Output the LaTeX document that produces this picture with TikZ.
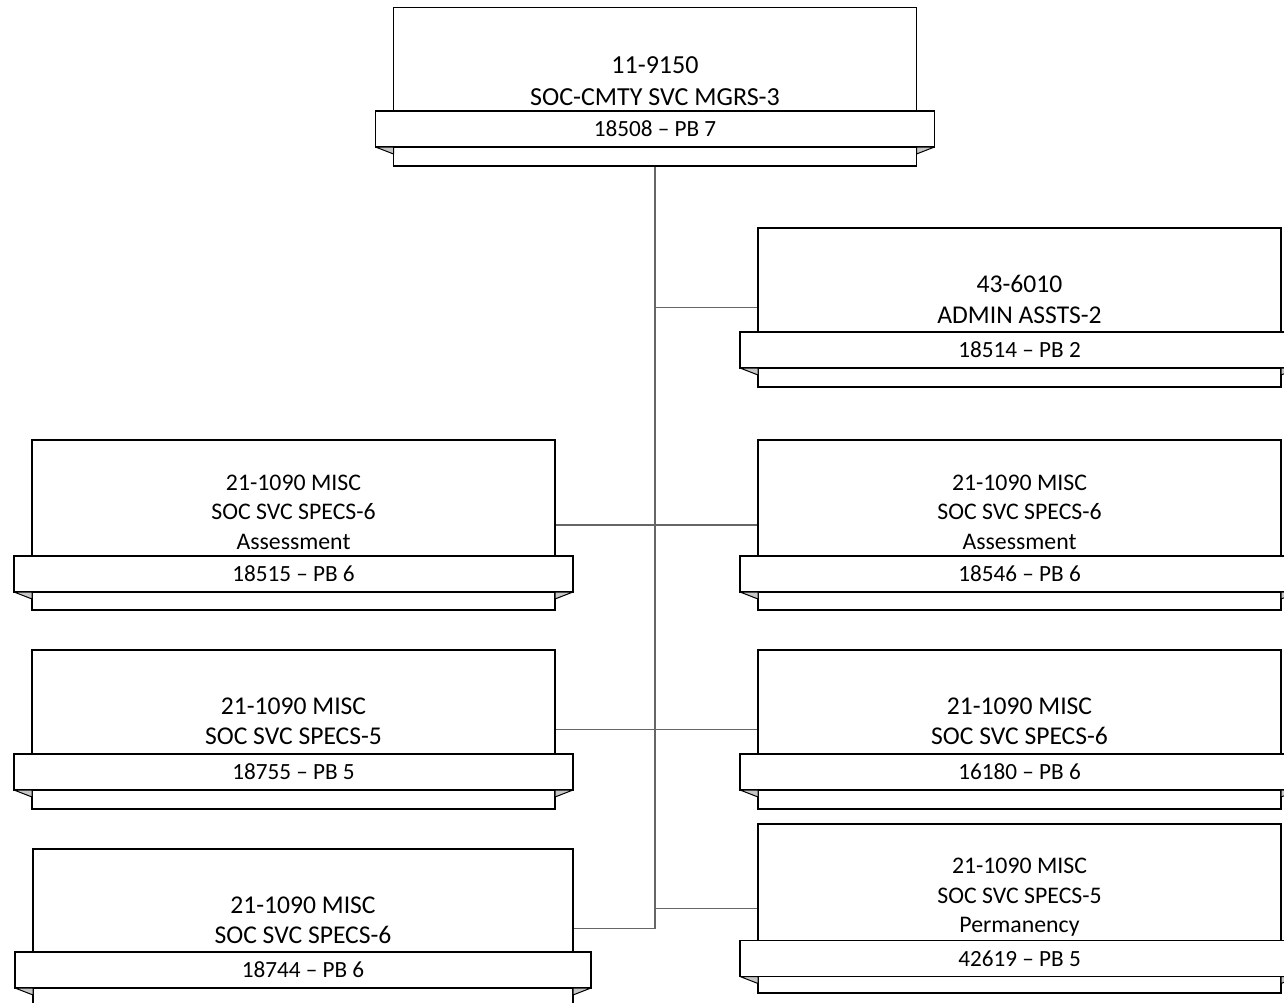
\documentclass[tikz,border=0pt]{standalone}
\usepackage{fontspec}
\setmainfont{Carlito}
\pgfdeclarelayer{bg}
\pgfsetlayers{bg,main}
\begin{document}
\begin{tikzpicture}[x=1pt,y=-1pt,
  mainbox/.style={draw=black, line width=1.8pt, fill=white, inner sep=0pt, outer sep=0pt, minimum width=523pt},
  band/.style={draw=black, line width=1.8pt, fill=white, inner sep=0pt, outer sep=0pt, minimum height=36pt, minimum width=559pt, font=\fontsize{23.2}{27}\selectfont},
  fold/.style={fill=black!22, draw=black, line width=1pt, line join=round},
  link/.style={draw=black!60, line width=1.1pt},
  txtT/.style={align=center, font=\fontsize{26}{31.5}\selectfont, inner sep=0pt},
  txtA/.style={align=center, font=\fontsize{25.6}{30.5}\selectfont, inner sep=0pt},
  txtB/.style={align=center, font=\fontsize{23.8}{29.5}\selectfont, inner sep=0pt}]
\useasboundingbox (0,0) rectangle (1284,1002);
\clip (0,0) rectangle (1284,1002);

% top box
\node[mainbox, minimum height=158.5pt] (t0) at (655,86.75) {};
\node[txtT] (t0txt) at (655,81.25) {11-9150\\SOC-CMTY SVC MGRS-3};
\node[band] (t0b) at (655,129) {18508 – PB 7};
\filldraw[fold] (t0b.south west) -- ++(18,7) -- ++(0,-7) -- cycle;
\filldraw[fold] (t0b.south east) -- ++(-18,7) -- ++(0,-7) -- cycle;

% admin
\node[mainbox, minimum height=159pt] (a) at (1019.5,307.5) {};
\node[txtA] (atxt) at (1019.5,299.25) {43-6010\\ADMIN ASSTS-2};
\node[band] (ab) at (1019.5,350) {18514 – PB 2};
\filldraw[fold] (ab.south west) -- ++(18,7) -- ++(0,-7) -- cycle;
\filldraw[fold] (ab.south east) -- ++(-18,7) -- ++(0,-7) -- cycle;

% row 1 left
\node[mainbox, minimum height=170pt] (l1) at (293.5,525) {};
\node[txtB] (l1txt) at (293.5,512) {21-1090 MISC\\SOC SVC SPECS-6\\Assessment};
\node[band] (l1b) at (293.5,574) {18515 – PB 6};
\filldraw[fold] (l1b.south west) -- ++(18,7) -- ++(0,-7) -- cycle;
\filldraw[fold] (l1b.south east) -- ++(-18,7) -- ++(0,-7) -- cycle;

% row 1 right
\node[mainbox, minimum height=170pt] (r1) at (1019.5,525) {};
\node[txtB] (r1txt) at (1019.5,512) {21-1090 MISC\\SOC SVC SPECS-6\\Assessment};
\node[band] (r1b) at (1019.5,574) {18546 – PB 6};
\filldraw[fold] (r1b.south west) -- ++(18,7) -- ++(0,-7) -- cycle;
\filldraw[fold] (r1b.south east) -- ++(-18,7) -- ++(0,-7) -- cycle;

% row 2 left
\node[mainbox, minimum height=159pt] (l2) at (293.5,729.5) {};
\node[txtA] (l2txt) at (293.5,721.25) {21-1090 MISC\\SOC SVC SPECS-5};
\node[band] (l2b) at (293.5,772) {18755 – PB 5};
\filldraw[fold] (l2b.south west) -- ++(18,7) -- ++(0,-7) -- cycle;
\filldraw[fold] (l2b.south east) -- ++(-18,7) -- ++(0,-7) -- cycle;

% row 2 right
\node[mainbox, minimum height=159pt] (r2) at (1019.5,729.5) {};
\node[txtA] (r2txt) at (1019.5,721.25) {21-1090 MISC\\SOC SVC SPECS-6};
\node[band] (r2b) at (1019.5,772) {16180 – PB 6};
\filldraw[fold] (r2b.south west) -- ++(18,7) -- ++(0,-7) -- cycle;
\filldraw[fold] (r2b.south east) -- ++(-18,7) -- ++(0,-7) -- cycle;

% row 3 left
\node[mainbox, minimum width=540pt, minimum height=159pt] (l3) at (303,928.5) {};
\node[txtA] (l3txt) at (303,920.25) {21-1090 MISC\\SOC SVC SPECS-6};
\node[band, minimum width=576pt] (l3b) at (303,970) {18744 – PB 6};
\filldraw[fold] (l3b.south west) -- ++(18,7) -- ++(0,-7) -- cycle;
\filldraw[fold] (l3b.south east) -- ++(-18,7) -- ++(0,-7) -- cycle;

% row 3 right
\node[mainbox, minimum height=169pt] (r3) at (1019.5,908.5) {};
\node[txtB] (r3txt) at (1019.5,897.5) {21-1090 MISC\\SOC SVC SPECS-5\\Permanency};
\node[band] (r3b) at (1019.5,958.5) {42619 – PB 5};
\filldraw[fold] (r3b.south west) -- ++(18,7) -- ++(0,-7) -- cycle;
\filldraw[fold] (r3b.south east) -- ++(-18,7) -- ++(0,-7) -- cycle;

% connectors
\begin{pgfonlayer}{bg}
\draw[link] (t0.south) -- (t0.south |- l3.east) -- (l3.east);
\draw[link] (t0.south |- a.west) -- (a.west);
\draw[link] (l1.east) -- (r1.west);
\draw[link] (l2.east) -- (r2.west);
\draw[link] (t0.south |- r3.west) -- (r3.west);
\end{pgfonlayer}
\end{tikzpicture}
\end{document}
